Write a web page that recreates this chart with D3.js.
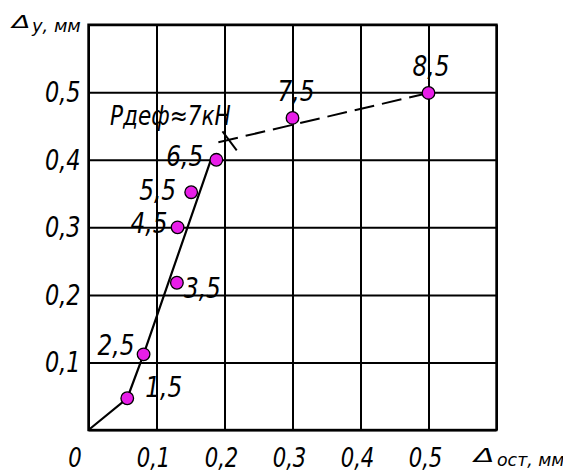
<!DOCTYPE html>
<html><head><meta charset="utf-8">
<script src="https://cdn.jsdelivr.net/npm/d3@7"></script>
<style>
html,body{margin:0;padding:0;background:#fff;}
svg{display:block;}
text{font-family:"DejaVu Sans",sans-serif;font-style:italic;fill:#000;}
</style></head>
<body>
<svg id="c" width="563" height="473"></svg>
<script>
// Data
const pointLabels = ["1,5","2,5","3,5","4,5","5,5","6,5","7,5","8,5"];
const residual = [0.057, 0.081, 0.130, 0.131, 0.151, 0.188, 0.300, 0.500];   // Δост, мм
const elastic  = [0.047, 0.112, 0.218, 0.300, 0.352, 0.400, 0.462, 0.499];   // Δу, мм
const solidX = [0, 0.057, 0.081, 0.181];
const solidY = [0, 0.047, 0.112, 0.403];
const dashX = [0.191, 0.500];
const dashY = [0.426, 0.499];
const markX = [0.197, 0.218];
const markY = [0.442, 0.414];
const xTicks = [0.1, 0.2, 0.3, 0.4, 0.5];
const yTicks = [0.1, 0.2, 0.3, 0.4, 0.5];
const gridTicks = [0, 0.1, 0.2, 0.3, 0.4, 0.5, 0.6];
const annotation = "Рдеф≈7кН";
const yTitle = ["Δ", "у, мм"];
const xTitle = ["Δ", "ост, мм"];

// Layout (label offsets from point, px)
const labelDx = [18, -46, 7, -47, -52, -50, -15, -16];
const labelDy = [-1, 1, 15, 6, 8, 6, -17, -17];

const svg = d3.select("#c");
const x = d3.scaleLinear().domain([0, 0.6]).range([88.5, 496.5]);
const y = d3.scaleLinear().domain([0, 0.6]).range([430, 24.7]);
const fmt = v => d3.format(".1f")(v).replace(".", ",");

function addText(px, py, str, size, anchor, sx) {
  const g = svg.append("g").attr("transform", `translate(${px},${py}) scale(${sx || 0.8},1)`);
  return g.append("text").attr("text-anchor", anchor || "start").attr("font-size", size).text(str);
}

// grid via axes
svg.append("g").attr("transform", `translate(0,${y(0)})`)
  .call(d3.axisBottom(x).tickValues(gridTicks).tickSize(-(y(0) - y(0.6))).tickFormat(""));
svg.append("g").attr("transform", `translate(${x(0)},0)`)
  .call(d3.axisLeft(y).tickValues(gridTicks).tickSize(-(x(0.6) - x(0))).tickFormat(""));
svg.selectAll(".domain").remove();
svg.selectAll(".tick line").attr("stroke", "#000").attr("stroke-width", 2);
svg.append("rect").attr("x", x(0)).attr("y", y(0.6))
  .attr("width", x(0.6) - x(0)).attr("height", y(0) - y(0.6))
  .attr("fill", "none").attr("stroke", "#000").attr("stroke-width", 2.4);

// tick labels
yTicks.forEach(v => addText(x(0) - 8, y(v) + 10, fmt(v), 28, "end"));
xTicks.forEach(v => addText(x(v) - 3, 466.5, fmt(v), 26.5, "middle"));
addText(75, 466.5, "0", 26.5, "middle");

// axis titles
addText(12, 28, yTitle[0], 18, "start", 1.5);
addText(32, 32, yTitle[1], 17, "start", 1.05);
addText(474, 461.5, xTitle[0], 20, "start", 1.5);
addText(497, 466, xTitle[1], 17, "start", 1.02);

// solid line
const line = d3.line().x(d => x(d[0])).y(d => y(d[1]));
svg.append("path").datum(d3.zip(solidX, solidY)).attr("d", line)
  .attr("fill", "none").attr("stroke", "#000").attr("stroke-width", 2.2);
// dashed line
svg.append("path").datum(d3.zip(dashX, dashY)).attr("d", line)
  .attr("fill", "none").attr("stroke", "#000").attr("stroke-width", 2)
  .attr("stroke-dasharray", "20,8");
// mark
svg.append("path").datum(d3.zip(markX, markY)).attr("d", line)
  .attr("fill", "none").attr("stroke", "#000").attr("stroke-width", 2);

// points
svg.selectAll("circle.pt").data(d3.range(residual.length)).enter().append("circle")
  .attr("class", "pt").attr("cx", i => x(residual[i])).attr("cy", i => y(elastic[i]))
  .attr("r", 6.3).attr("fill", "#e81ee8").attr("stroke", "#000").attr("stroke-width", 1.3);

// point labels
pointLabels.forEach((s, i) => addText(x(residual[i]) + labelDx[i], y(elastic[i]) + labelDy[i], s, 29, "start"));

// annotation
addText(110, 125, annotation, 27, "start");
</script>
</body></html>
